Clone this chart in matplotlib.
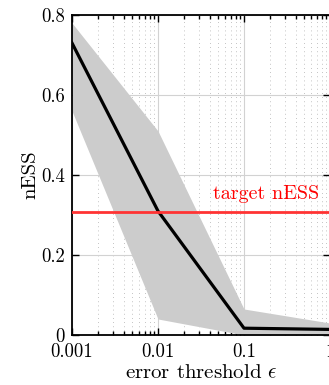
import numpy as np
import matplotlib
import matplotlib.pyplot as plt
import matplotlib.ticker

matplotlib.use('agg')
plt.rcParams['font.family'] = 'cmr10'
plt.rcParams['mathtext.fontset'] = 'cm'
plt.rcParams['axes.formatter.use_mathtext'] = True

# data
thresholds = [0.001, 0.01, 0.1, 1.0]
ness_median = [0.73, 0.31, 0.017, 0.014]
ness_upper = [0.78, 0.51, 0.065, 0.03]
ness_lower = [0.56, 0.04, 0.0, 0.0]
target_ness = 0.3075
xtick_labels = ['0.001', '0.01', '0.1', '1']
ytick_values = [0, 0.2, 0.4, 0.6, 0.8]
ytick_labels = ['0', '0.2', '0.4', '0.6', '0.8']

fig = plt.figure(figsize=(3.29, 3.85), dpi=100)
ax = fig.add_axes([72 / 329, 50 / 385, 258 / 329, 320 / 385])

ax.fill_between(thresholds, ness_lower, ness_upper, color='#cccccc', lw=0, zorder=2)
ax.plot(thresholds, ness_median, color='k', lw=2.3, zorder=3)
ax.axhline(target_ness, color='#ff3333', lw=2, zorder=4)
ax.text(0.957, 0.425, 'target nESS', color='red', fontsize=14.5,
        ha='right', va='baseline', transform=ax.transAxes, zorder=5)

ax.set_xscale('log')
ax.set_xlim(0.001, 1)
ax.set_ylim(0, 0.8)
ax.set_xticks(thresholds)
ax.set_xticklabels(xtick_labels)
ax.set_yticks(ytick_values)
ax.set_yticklabels(ytick_labels)
ax.xaxis.set_minor_locator(matplotlib.ticker.LogLocator(base=10, subs=np.arange(2, 10)))
ax.xaxis.set_minor_formatter(matplotlib.ticker.NullFormatter())

ax.grid(which='major', color='#d2d2d2', lw=0.8, zorder=1)
ax.grid(which='minor', axis='x', color='#b0b0b0', lw=0.6, linestyle=(0, (1, 4)), zorder=1)
ax.set_axisbelow(True)

ax.tick_params(which='both', direction='in', top=True, right=True, labelsize=13.5, width=1)
ax.tick_params(which='major', length=5)
ax.tick_params(which='minor', length=3)
ax.tick_params(axis='x', pad=6)
ax.tick_params(axis='y', pad=5)
for s in ax.spines.values():
    s.set_linewidth(1.3)

ax.set_xlabel(r'error threshold $\epsilon$', fontsize=15, labelpad=2)
ax.set_ylabel('nESS', fontsize=15, labelpad=1)

fig.savefig('out.png', dpi=100)
